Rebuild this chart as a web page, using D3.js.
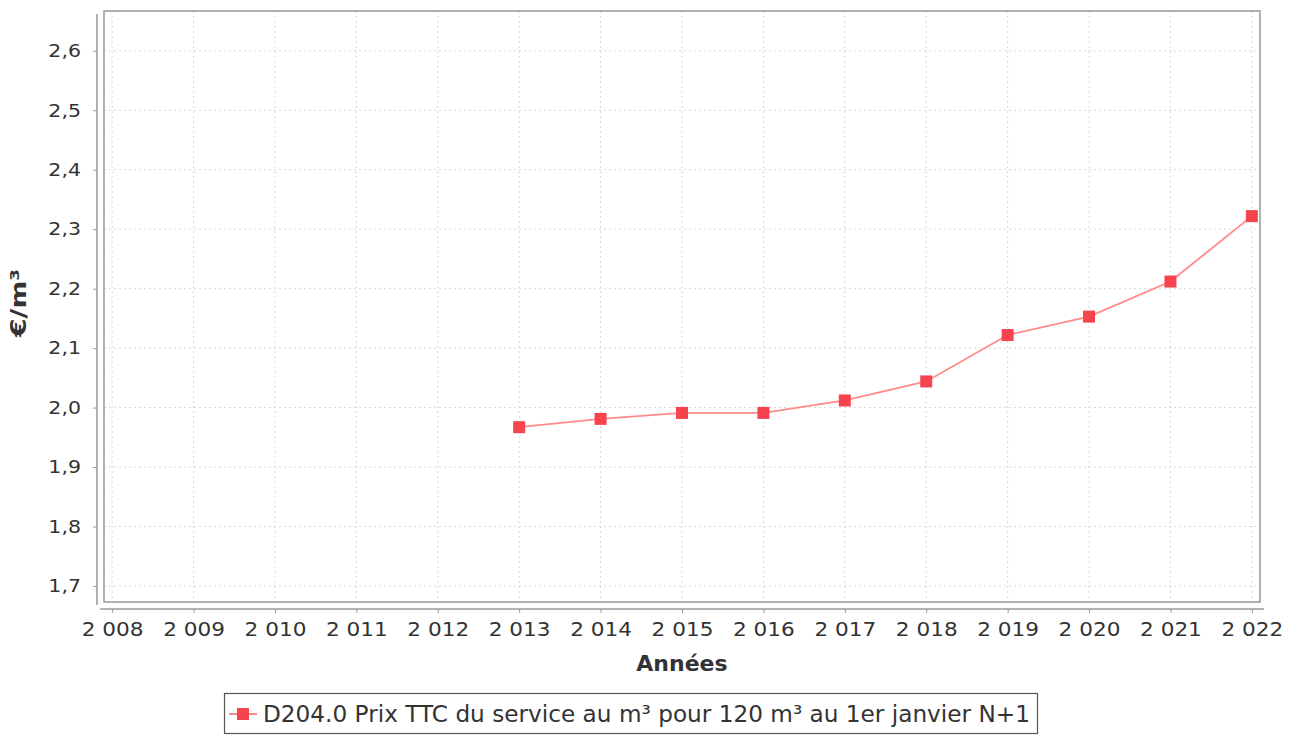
<!DOCTYPE html>
<html><head><meta charset="utf-8">
<script src="https://cdn.jsdelivr.net/npm/d3@7"></script>
<style>body{margin:0;background:#fff}svg{display:block}text{font-family:"DejaVu Sans",sans-serif}</style>
</head><body>
<svg id="c" width="1301" height="735"></svg>
<script>
const years = [2013,2014,2015,2016,2017,2018,2019,2020,2021,2022];
const values = [1.967,1.981,1.991,1.991,2.012,2.044,2.122,2.153,2.212,2.322];
const xTicks = [2008,2009,2010,2011,2012,2013,2014,2015,2016,2017,2018,2019,2020,2021,2022];
const yTicks = [1.7,1.8,1.9,2.0,2.1,2.2,2.3,2.4,2.5,2.6];
const seriesName = "D204.0 Prix TTC du service au m³ pour 120 m³ au 1er janvier N+1";
const xTitle = "Années", yTitle = "€/m³";

const svg = d3.select("#c");
const L=104, R=1260, T=11, B=602;
const x = d3.scaleLinear().domain([2007.9,2022.1]).range([L,R]);
const y = d3.scaleLinear().domain([1.673,2.667]).range([B,T]);

// gridlines
const g = svg.append("g");
g.selectAll(".vg").data(xTicks).join("line")
  .attr("x1",d=>x(d)).attr("x2",d=>x(d)).attr("y1",T).attr("y2",B)
  .attr("stroke","#d8d8d8").attr("stroke-width",1).attr("stroke-dasharray","2,3");
g.selectAll(".hg").data(yTicks).join("line")
  .attr("x1",L).attr("x2",R).attr("y1",d=>y(d)).attr("y2",d=>y(d))
  .attr("stroke","#d8d8d8").attr("stroke-width",1).attr("stroke-dasharray","2,3");

// plot border
svg.append("rect").attr("x",L).attr("y",T).attr("width",R-L).attr("height",B-T)
  .attr("fill","none").attr("stroke","#999").attr("stroke-width",1.5);

// axes
const fmt = d3.formatLocale({decimal:",",thousands:" ",grouping:[3],currency:["","€"]});
const yAx = svg.append("g").attr("transform",`translate(${L-7},0)`)
  .call(d3.axisLeft(y).tickValues(yTicks).tickFormat(fmt.format(".1f")).tickSize(4).tickPadding(12));
yAx.select(".domain").attr("stroke","#999").attr("stroke-width",1.5).attr("d",`M-0,${T+3}V${B+3}`);
yAx.selectAll(".tick line").attr("stroke","#999");
yAx.selectAll("text").attr("font-size",18).attr("fill","#333")
  .each(function(){const w=this.getComputedTextLength();this.setAttribute("textLength",w*1.14);this.setAttribute("lengthAdjust","spacingAndGlyphs");});

const xAx = svg.append("g").attr("transform",`translate(0,${B+7})`)
  .call(d3.axisBottom(x).tickValues(xTicks).tickFormat(fmt.format(",d")).tickSize(4).tickPadding(8));
xAx.select(".domain").attr("stroke","#999").attr("stroke-width",1.5).attr("d",`M${L-4},0H${R+4}`);
xAx.selectAll(".tick line").attr("stroke","#999");
xAx.selectAll("text").attr("font-size",20).attr("fill","#333").attr("dy","0.75em")
  .each(function(){const w=this.getComputedTextLength();this.setAttribute("textLength",w*1.08);this.setAttribute("lengthAdjust","spacingAndGlyphs");});

// titles
svg.append("text").attr("x",682).attr("y",671).attr("text-anchor","middle")
  .attr("font-size",22).attr("font-weight","bold").attr("fill","#333").text(xTitle);
svg.append("text").attr("transform","translate(26,303) rotate(-90)").attr("text-anchor","middle")
  .attr("font-size",21).attr("font-weight","bold").attr("fill","#333").text(yTitle)
  .attr("textLength",68).attr("lengthAdjust","spacingAndGlyphs");

// series
const pts = years.map((d,i)=>({yr:d,v:values[i]}));
svg.append("path").datum(pts).attr("fill","none").attr("stroke","#ff8a8a").attr("stroke-width",1.8)
  .attr("d",d3.line().x(d=>x(d.yr)).y(d=>y(d.v)));
svg.selectAll(".pt").data(pts).join("rect")
  .attr("x",d=>x(d.yr)-6).attr("y",d=>y(d.v)-6).attr("width",12).attr("height",12).attr("fill","#f7434e");

// legend
svg.append("rect").attr("x",224.5).attr("y",693.5).attr("width",813).attr("height",40)
  .attr("fill","#fff").attr("stroke","#555").attr("stroke-width",1.2);
svg.append("line").attr("x1",229).attr("x2",257).attr("y1",714).attr("y2",714).attr("stroke","#ff8a8a").attr("stroke-width",2);
svg.append("rect").attr("x",237).attr("y",708).attr("width",12).attr("height",12).attr("fill","#f7434e");
const lt = svg.append("text").attr("x",263).attr("y",722).attr("font-size",23).attr("fill","#333").text(seriesName);
lt.attr("textLength",767).attr("lengthAdjust","spacingAndGlyphs");
</script>
</body></html>
